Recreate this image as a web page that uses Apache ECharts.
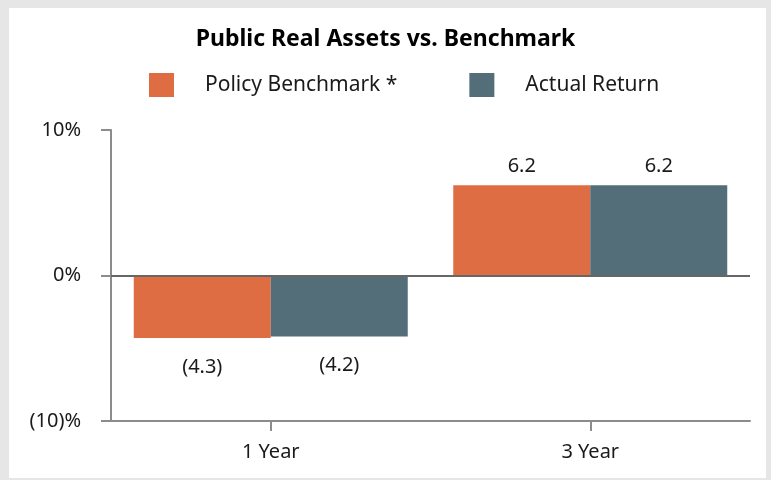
<!DOCTYPE html>
<html><head><meta charset="utf-8">
<script src="https://cdn.jsdelivr.net/npm/echarts@6/dist/echarts.min.js"></script>
<style>
html,body{margin:0;padding:0;background:#fff;}
#frame{position:absolute;left:0;top:0;width:771px;height:480px;box-sizing:border-box;border-style:solid;border-color:#e6e6e6;border-width:8px 5px 2px 9px;}
#c{position:absolute;left:0;top:0;width:771px;height:480px;}
</style></head>
<body>
<div id="frame"></div>
<div id="c"></div>
<script>
const categories = ['1 Year', '3 Year'];
const policyBenchmark = [-4.3, 6.2];
const actualReturn = [-4.2, 6.2];
const seriesNames = ['Policy Benchmark *', 'Actual Return'];
const yTicks = [-10, 0, 10];

const FONT = '"Noto Sans", sans-serif';
const chart = echarts.init(document.getElementById('c'), null, {renderer: 'canvas'});
function fmtVal(v){ return v < 0 ? '(' + Math.abs(v).toFixed(1) + ')' : v.toFixed(1); }
function barLabel(){
  return {
    show: true,
    fontFamily: FONT, fontSize: 20, color: '#1a1a1a',
    formatter: p => fmtVal(p.value)
  };
}
function mkData(arr){
  return arr.map(v => ({value: v, label: {position: v < 0 ? 'bottom' : 'top', distance: v < 0 ? 19 : 9}}));
}
chart.setOption({
  backgroundColor: 'transparent',
  animation: false,
  title: {
    text: 'Public Real Assets vs. Benchmark',
    left: 'center', top: 23,
    textStyle: {fontFamily: FONT, fontSize: 23, fontWeight: 'bold', color: '#000'}
  },
  legend: {
    top: 68, left: 144,
    itemWidth: 25, itemHeight: 24, itemGap: 72,
    icon: 'rect',
    textStyle: {fontFamily: FONT, fontSize: 21, color: '#1a1a1a', padding: [0, 0, 0, 26]},
    data: seriesNames
  },
  grid: {left: 111, right: 21, top: 130, bottom: 59, containLabel: false},
  xAxis: {
    type: 'category', data: categories,
    axisLine: {onZero: false, lineStyle: {color: '#8c8c8c', width: 2}},
    axisTick: {show: true, alignWithLabel: true, length: 10, lineStyle: {color: '#8c8c8c', width: 2}},
    axisLabel: {fontFamily: FONT, fontSize: 20, color: '#1a1a1a', margin: 21}
  },
  yAxis: {
    type: 'value', min: -10, max: 10, interval: 10,
    axisLine: {show: true, lineStyle: {color: '#8c8c8c', width: 2}},
    axisTick: {show: true, inside: false, length: 10, lineStyle: {color: '#8c8c8c', width: 2}},
    splitLine: {show: false},
    axisLabel: {fontFamily: FONT, fontSize: 20, color: '#1a1a1a', margin: 30,
      formatter: v => yTicks.includes(v) ? (v < 0 ? '(' + Math.abs(v) + ')%' : v + '%') : ''}
  },
  series: [
    {name: seriesNames[0], type: 'bar', data: mkData(policyBenchmark), barWidth: 137, barGap: '0%',
     itemStyle: {color: '#DF6D43'}, label: barLabel(),
     markLine: {silent: true, symbol: 'none', label: {show: false},
       lineStyle: {color: '#666', width: 2, type: 'solid'}, data: [{yAxis: 0}]}},
    {name: seriesNames[1], type: 'bar', data: mkData(actualReturn), barWidth: 137, barGap: '0%',
     itemStyle: {color: '#536E79'}, label: barLabel()}
  ]
});
</script>
</body></html>
